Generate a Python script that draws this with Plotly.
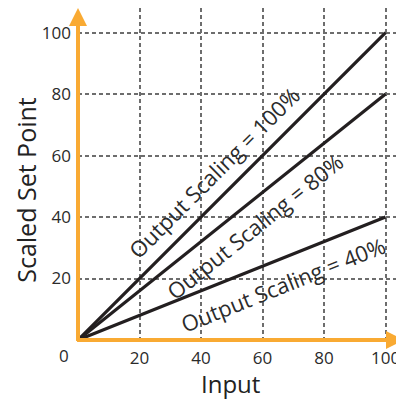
import plotly.graph_objects as go

# Data
inputs = [0, 100]
scalings = [100, 80, 40]  # percent
series_labels = ["Output Scaling = 100%", "Output Scaling = 80%", "Output Scaling = 40%"]
x_ticks = [20, 40, 60, 80, 100]
y_ticks = [20, 40, 60, 80, 100]
corner_label = "0"

ORANGE = "#F9AA33"
LINE = "#231F20"
FONT = "Open Sans"
TXT = "#2b2b2b"

fig = go.Figure()
for s in scalings:
    fig.add_trace(go.Scatter(
        x=inputs, y=[v * s / 100 for v in inputs], mode="lines",
        line=dict(color=LINE, width=3.2), showlegend=False, hoverinfo="skip"))

# rotated labels along lines (centre in data coords, angle in degrees)
label_pos = [(44.3, 54.5, -45.0), (57.5, 37.0, -38.66), (66.8, 18.3, -21.8)]
annotations = []
for txt, (lx, ly, ang) in zip(series_labels, label_pos):
    annotations.append(dict(x=lx, y=ly, xref="x", yref="y", text=txt, showarrow=False,
                            xanchor="center", yanchor="middle",
                            textangle=ang, font=dict(family=FONT, size=22, color=TXT)))

# axis arrows
annotations.append(dict(x=106, y=0, ax=-0.8, ay=0, xref="x", yref="y", axref="x", ayref="y",
                        text="", showarrow=True, arrowhead=2, arrowsize=0.9, arrowwidth=4,
                        arrowcolor=ORANGE))
annotations.append(dict(x=0, y=108, ax=0, ay=-0.8, xref="x", yref="y", axref="x", ayref="y",
                        text="", showarrow=True, arrowhead=2, arrowsize=0.9, arrowwidth=4,
                        arrowcolor=ORANGE))
# corner "0"
annotations.append(dict(x=-0.044, y=-0.048, xref="paper", yref="paper", text=corner_label,
                        xanchor="center", yanchor="middle",
                        showarrow=False, font=dict(family=FONT, size=17, color=TXT)))
# axis titles
annotations.append(dict(x=0.467, y=-0.1325, xref="paper", yref="paper", text="Input",
                        xanchor="center", yanchor="middle",
                        showarrow=False, font=dict(family=FONT, size=24, color="#222222")))
annotations.append(dict(x=-0.16, y=0.452, xref="paper", yref="paper", text="Scaled Set Point",
                        xanchor="center", yanchor="middle",
                        showarrow=False, textangle=-90,
                        font=dict(family=FONT, size=25, color="#222222")))

grid = dict(showgrid=True, gridcolor="#6d6d6d", gridwidth=1.5, griddash="4px,3px",
            zeroline=False, showline=False, ticks="",
            tickfont=dict(family=FONT, size=17, color=TXT))

fig.update_layout(
    width=396, height=394,
    margin=dict(l=69.5, r=0, t=0, b=62),
    plot_bgcolor="white", paper_bgcolor="white",
    xaxis=dict(range=[0, 106], tickvals=x_ticks, ticklabelstandoff=6, automargin=False, **grid),
    yaxis=dict(range=[0, 108], tickvals=y_ticks, ticklabelstandoff=6, automargin=False, **grid),
    annotations=annotations,
)
fig.write_html("out.html")
